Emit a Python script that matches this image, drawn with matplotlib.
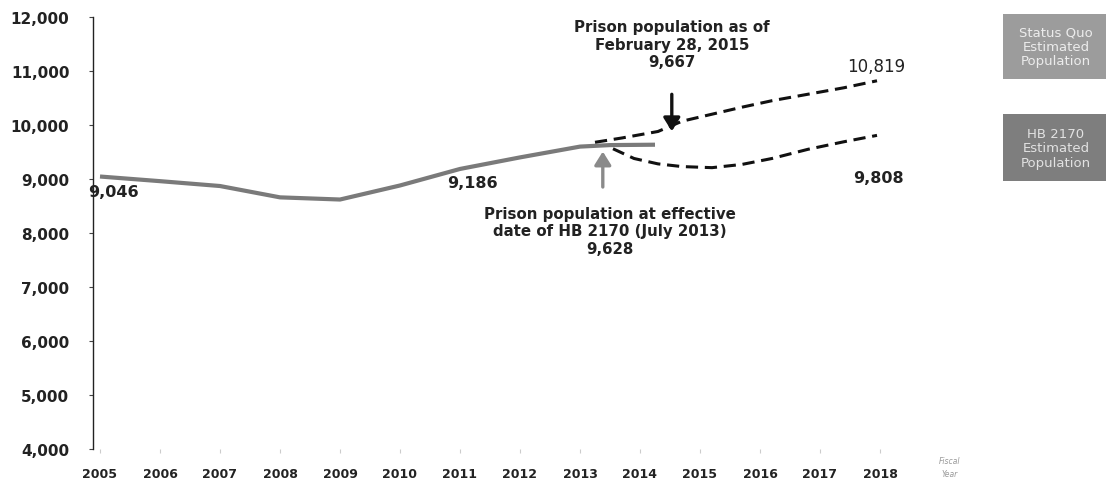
import matplotlib.pyplot as plt
from matplotlib.patches import Rectangle

# actual prison population (fiscal years)
actual_years = [2005, 2006, 2007, 2008, 2009, 2010, 2011, 2012, 2013, 2013.5, 2014.25]
actual_pop = [9046, 8960, 8870, 8660, 8620, 8880, 9186, 9400, 9600, 9628, 9635]

# status quo projection
sq_years = [2013.25, 2013.7, 2014.3, 2014.7, 2015.2, 2015.7, 2016.2, 2016.8, 2017.4, 2017.95]
sq_pop = [9680, 9760, 9880, 10070, 10200, 10330, 10450, 10570, 10690, 10819]

# HB 2170 projection
hb_years = [2013.55, 2013.9, 2014.3, 2014.7, 2015.2, 2015.7, 2016.2, 2016.8, 2017.4, 2017.95]
hb_pop = [9560, 9380, 9280, 9230, 9210, 9270, 9380, 9550, 9690, 9808]

year_ticks = list(range(2005, 2019))
pop_ticks = list(range(4000, 12001, 1000))

fig = plt.figure(figsize=(11.06, 4.85), dpi=100)
ax = fig.add_axes([93 / 1106, 1 - 450 / 485, 807 / 1106, 432 / 485])
ax.set_xlim(2005 - 7 / 60, 2005 + 800 / 60)
ax.set_ylim(4000, 12000)

ax.plot(actual_years, actual_pop, color="#7a7a7a", lw=3.0, solid_capstyle="butt")
ax.plot(sq_years, sq_pop, color="#111111", lw=2.2, ls=(0, (4, 2.2)))
ax.plot(hb_years, hb_pop, color="#111111", lw=2.2, ls=(0, (4, 2.2)))

for s in ["top", "right", "bottom"]:
    ax.spines[s].set_visible(False)
ax.spines["left"].set_color("#222222")
ax.spines["left"].set_linewidth(1.0)

ax.set_xticks(year_ticks)
ax.set_xticklabels([str(y) for y in year_ticks], fontsize=9, fontweight="bold", color="#222222")
ax.set_yticks(pop_ticks)
ax.set_yticklabels([f"{v:,}" for v in pop_ticks], fontsize=11, fontweight="bold", color="#222222")
ax.tick_params(axis="x", length=3, color="#cccccc", pad=10)
ax.tick_params(axis="y", length=3, color="#444444", pad=14)

# data labels
txt = dict(fontsize=11.5, fontweight="bold", color="#222222", va="center")
ax.text(2004.8, 8760, f"{actual_pop[0]:,}", ha="left", clip_on=False, **txt)
ax.text(2010.78, 8940, f"{actual_pop[6]:,}", ha="left", **txt)
ax.text(2017.45, 11100, f"{sq_pop[-1]:,}", ha="left", fontsize=12, color="#222222", va="center")
ax.text(2017.55, 9030, f"{hb_pop[-1]:,}", ha="left", **txt)

# callouts
ax.annotate("", xy=(2014.53, 9833), xytext=(2014.53, 10620),
            arrowprops=dict(arrowstyle="-|>,head_width=0.5,head_length=0.8", color="#111111", lw=2.4))
ax.text(2014.53, 11960, "Prison population as of\nFebruary 28, 2015\n9,667",
        ha="center", va="top", fontsize=10.8, fontweight="bold", color="#222222", linespacing=1.2)

ax.annotate("", xy=(2013.38, 9560), xytext=(2013.38, 8800),
            arrowprops=dict(arrowstyle="-|>,head_width=0.5,head_length=0.8", color="#8a8a8a", lw=2.4))
ax.text(2013.5, 8500, "Prison population at effective\ndate of HB 2170 (July 2013)\n9,628",
        ha="center", va="top", fontsize=10.8, fontweight="bold", color="#222222", linespacing=1.2)

# legend boxes
boxes = [("Status Quo\nEstimated\nPopulation", 15, 80, "#9c9c9c", "#ececec"),
         ("HB 2170\nEstimated\nPopulation", 115, 182, "#7e7e7e", "#e2e2e2")]
for label, top, bottom, fc, tc in boxes:
    fig.patches.append(Rectangle((1003 / 1106, 1 - bottom / 485), 110 / 1106, (bottom - top) / 485,
                                 transform=fig.transFigure, fc=fc, ec="none"))
    fig.text(1056 / 1106, 1 - (top + bottom) / 2 / 485, label, ha="center", va="center",
             fontsize=9.5, color=tc, linespacing=1.15)

fig.text(950 / 1106, 1 - 468 / 485, "Fiscal\nYear", ha="center", va="center",
         fontsize=5.5, color="#999999", style="italic", linespacing=1.6)

fig.savefig("out.png", dpi=100)
